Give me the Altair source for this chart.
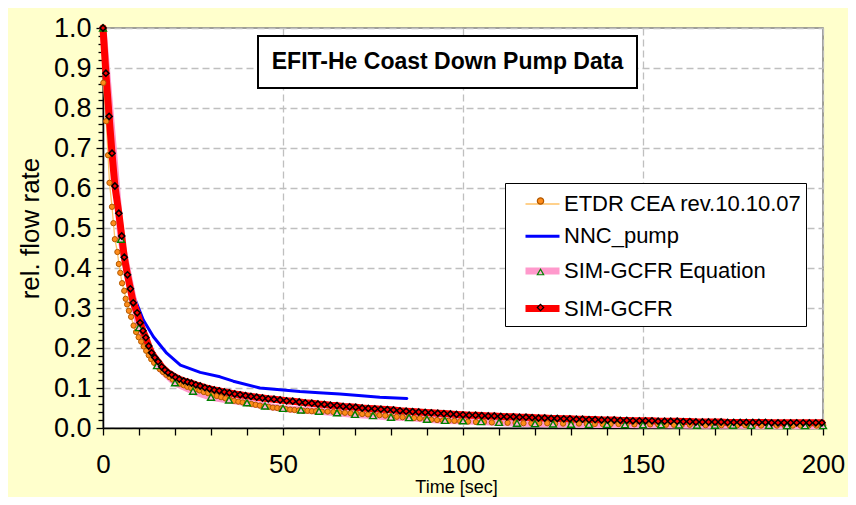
import altair as alt
import pandas as pd

FONT = "Liberation Sans"

# ---------------- data ----------------
S_ETDR = "ETDR CEA rev.10.10.07"
S_NNC = "NNC_pump"
S_EQ = "SIM-GCFR Equation"
S_SIM = "SIM-GCFR"
series_names = [S_ETDR, S_NNC, S_EQ, S_SIM]

etdr_t = [0, 0.1, 0.9, 1.4, 1.8, 2.5, 2.9, 3.3, 4.0, 4.4,
          4.8, 5.3, 5.9, 6.3, 6.7, 7.2, 7.8, 8.5, 9.2, 9.9,
          10.6, 11.3, 12.0, 12.7, 13.4, 14.2, 15.0, 15.8, 16.7, 17.6,
          18.5, 19.4, 20.4, 21.4, 22.4, 23.4, 24.5, 25.6, 26.8, 28.0,
          29.2, 30.4, 31.6, 32.8, 34.0, 35.2, 36.4, 37.6, 38.8, 40.0,
          41.2, 42.4, 43.6, 44.8, 46.0, 47.2, 48.4, 49.6, 50.8, 52.0,
          53.2, 54.4, 55.6, 56.8, 58.0, 59.2, 60.8, 62.4, 64.0, 65.6,
          67.2, 68.8, 70.4, 72.0, 73.6, 75.2, 76.8, 78.4, 80.0, 81.6,
          83.2, 84.8, 86.4, 88.0, 89.6, 91.2, 92.8, 94.4, 96.0, 97.6,
          99.2, 101.4, 103.6, 105.8, 108.0, 110.2, 112.4, 114.6, 116.8, 119.0,
          121.2, 123.4, 125.6, 127.8, 130.0, 132.2, 134.4, 136.6, 138.8, 141.0,
          143.2, 145.4, 147.6, 149.8, 152.0, 154.2, 156.4, 158.6, 160.8, 163.0,
          165.2, 167.4, 169.6, 171.8, 174.0, 176.2, 178.4, 180.6, 182.8, 185.0,
          187.2, 189.4, 191.6, 193.8, 196.0, 198.2, 200.0]
etdr_v = [1.0, 0.863, 0.767, 0.682, 0.613, 0.553, 0.512, 0.472, 0.440, 0.410,
          0.388, 0.362, 0.343, 0.323, 0.309, 0.293, 0.278, 0.256, 0.240, 0.227,
          0.216, 0.204, 0.193, 0.182, 0.172, 0.163, 0.155, 0.147, 0.140, 0.133,
          0.127, 0.121, 0.116, 0.111, 0.107, 0.103, 0.100, 0.097, 0.094, 0.090,
          0.087, 0.083, 0.080, 0.077, 0.074, 0.071, 0.068, 0.066, 0.064, 0.062,
          0.060, 0.058, 0.056, 0.054, 0.053, 0.051, 0.050, 0.049, 0.047, 0.046,
          0.045, 0.044, 0.043, 0.043, 0.042, 0.042, 0.041, 0.041, 0.040, 0.039,
          0.038, 0.037, 0.036, 0.035, 0.034, 0.033, 0.032, 0.031, 0.029, 0.028,
          0.027, 0.026, 0.025, 0.024, 0.022, 0.021, 0.020, 0.019, 0.018, 0.018,
          0.017, 0.016, 0.015, 0.015, 0.014, 0.013, 0.013, 0.013, 0.012, 0.012,
          0.012, 0.012, 0.011, 0.011, 0.011, 0.011, 0.010, 0.010, 0.010, 0.010,
          0.010, 0.009, 0.009, 0.009, 0.009, 0.009, 0.008, 0.008, 0.008, 0.008,
          0.008, 0.007, 0.007, 0.007, 0.007, 0.007, 0.007, 0.006, 0.006, 0.006,
          0.006, 0.006, 0.006, 0.006, 0.006, 0.006, 0.006]

nnc_t = [0, 0.8, 1.7, 2.5, 3.3, 4.4, 5.9, 7.6, 8.4, 11.2, 14.0, 17.7,
         21.5, 27.0, 32.5, 36.2, 43.6, 50.0, 54.7, 60.0, 65.8, 71.0, 76.9, 84.4]
nnc_v = [1.0, 0.887, 0.779, 0.687, 0.605, 0.537, 0.430, 0.352, 0.333, 0.270, 0.228, 0.187,
         0.157, 0.139, 0.128, 0.117, 0.100, 0.095, 0.091, 0.088, 0.085, 0.081, 0.077, 0.074]

eq_t = [0, 5, 10, 15, 20, 25, 30, 35, 40, 45, 50, 55, 60, 65, 70, 75, 80, 85, 90, 95,
        100, 105, 110, 115, 120, 125, 130, 135, 140, 145, 150, 155, 160, 165, 170, 175,
        180, 185, 190, 195, 200]
eq_v = [1.0, 0.472, 0.251, 0.156, 0.113, 0.092, 0.077, 0.070, 0.063, 0.055, 0.049, 0.045,
        0.042, 0.038, 0.034, 0.031, 0.027, 0.026, 0.022, 0.019, 0.018, 0.016, 0.014, 0.012,
        0.011, 0.010, 0.0095, 0.009, 0.009, 0.0085, 0.008, 0.008, 0.0075, 0.007, 0.007,
        0.007, 0.0065, 0.0065, 0.006, 0.006, 0.006]

sim_t = [0, 0.8, 1.7, 2.5, 3.3, 4.4, 5.2, 5.9, 6.8, 7.6,
         8.4, 9.5, 10.3, 11.1, 11.9, 12.7, 13.5, 14.4, 15.3, 16.3,
         17.2, 18.1, 19.1, 20.1, 21.2, 22.4, 23.5, 24.6, 25.8, 27.0,
         28.3, 29.6, 30.9, 32.3, 33.7, 35.1, 36.6, 38.1, 39.6, 41.1,
         42.7, 44.3, 45.9, 47.5, 49.2, 51.0, 52.7, 54.5, 56.2, 58.0,
         59.7, 61.5, 63.2, 65.0, 66.7, 68.5, 70.2, 72.0, 73.7, 75.5,
         77.2, 79.0, 80.7, 82.5, 84.2, 86.0, 87.7, 89.5, 91.2, 93.0,
         94.7, 96.5, 98.2, 100.0, 101.7, 103.5, 105.2, 107.0, 108.7, 110.5,
         112.2, 114.0, 115.7, 117.5, 119.2, 121.0, 122.7, 124.5, 126.2, 128.0,
         129.7, 131.5, 133.2, 135.0, 136.7, 138.5, 140.2, 142.0, 143.7, 145.5,
         147.2, 149.0, 150.7, 152.5, 154.2, 156.0, 157.7, 159.5, 161.2, 163.0,
         164.7, 166.5, 168.2, 170.0, 171.7, 173.5, 175.2, 177.0, 178.7, 180.5,
         182.2, 184.0, 185.7, 187.5, 189.2, 191.0, 192.7, 194.5, 196.2, 198.0, 199.7]
sim_v = [1.0, 0.887, 0.779, 0.687, 0.605, 0.537, 0.480, 0.427, 0.383, 0.348,
         0.313, 0.288, 0.263, 0.243, 0.226, 0.205, 0.188, 0.176, 0.166, 0.153,
         0.145, 0.138, 0.133, 0.127, 0.122, 0.118, 0.115, 0.112, 0.108, 0.105,
         0.101, 0.098, 0.095, 0.093, 0.090, 0.088, 0.085, 0.083, 0.081, 0.079,
         0.077, 0.075, 0.073, 0.072, 0.070, 0.068, 0.067, 0.065, 0.063, 0.062,
         0.060, 0.059, 0.057, 0.056, 0.054, 0.053, 0.052, 0.050, 0.049, 0.048,
         0.047, 0.046, 0.045, 0.043, 0.042, 0.041, 0.040, 0.039, 0.038, 0.037,
         0.036, 0.035, 0.034, 0.033, 0.032, 0.032, 0.031, 0.030, 0.030, 0.029,
         0.028, 0.028, 0.027, 0.027, 0.026, 0.025, 0.025, 0.024, 0.024, 0.023,
         0.023, 0.022, 0.022, 0.021, 0.021, 0.020, 0.020, 0.020, 0.019, 0.019,
         0.018, 0.018, 0.018, 0.018, 0.017, 0.017, 0.017, 0.017, 0.016, 0.016,
         0.015, 0.015, 0.015, 0.015, 0.015, 0.014, 0.014, 0.014, 0.014, 0.014,
         0.014, 0.014, 0.013, 0.013, 0.013, 0.013, 0.013, 0.013, 0.013, 0.013, 0.013]

x_ticks = [0, 10, 20, 30, 40, 50, 60, 70, 80, 90, 100, 110, 120, 130, 140, 150,
           160, 170, 180, 190, 200]
y_ticks = [round(0.02 * i, 2) for i in range(51)]

# ---------------- table ----------------
rows = []
for name, ts, vs in [(S_ETDR, etdr_t, etdr_v), (S_NNC, nnc_t, nnc_v),
                     (S_EQ, eq_t, eq_v), (S_SIM, sim_t, sim_v)]:
    assert len(ts) == len(vs), name
    for i, (t, v) in enumerate(zip(ts, vs)):
        rows.append({"series": name, "series_m": name + " ", "t": t, "v": v, "order": i})
df = pd.DataFrame(rows)

# ---------------- style ----------------
line_colors = ["#FFC266", "#0000FF", "#FF99CC", "#FF0000"]
line_widths = [1.3, 3, 7, 7]
marker_names = [n + " " for n in series_names]
marker_fill = ["#FF8C1A", "transparent", "#FFB3D9", "#FF0000"]
marker_stroke = ["#B35900", "transparent", "#008000", "#000000"]
marker_shape = ["circle", "circle", "triangle-up", "diamond"]

y_major = "abs(datum.value*10 - round(datum.value*10)) < 0.001"
x_major = "datum.value % 50 == 0"

x_enc = alt.X(
    "t:Q",
    scale=alt.Scale(domain=[0, 200], nice=False, zero=False),
    axis=alt.Axis(
        values=x_ticks,
        labelExpr=f"({x_major}) ? format(datum.value, 'd') : ''",
        labelOverlap=False,
        labelFlush=False,
        labelFontSize=26,
        labelPadding=16,
        tickSize=7,
        title="Time [sec]",
        titleFontSize=18,
        titleFontWeight="normal",
        titleX=353,
        titleY=59,
        titleAlign="center",
        titleBaseline="middle",
        gridOpacity={"condition": {"test": x_major, "value": 1}, "value": 0},
    ),
)
y_enc = alt.Y(
    "v:Q",
    scale=alt.Scale(domain=[0, 1], nice=False),
    axis=alt.Axis(
        values=y_ticks,
        labelExpr=f"({y_major}) ? format(datum.value, '.1f') : ''",
        labelOverlap=False,
        labelFlush=False,
        labelFontSize=27,
        labelPadding=5,
        tickSize={"condition": {"test": y_major, "value": 7}, "value": 5},
        title="rel. flow rate",
        titleFontSize=26,
        titleFontWeight="normal",
        titleAngle=270,
        titleX=-73,
        titleY=200,
        titleAlign="center",
        titleBaseline="middle",
        gridOpacity={"condition": {"test": y_major, "value": 1}, "value": 0},
    ),
)

leg_lines = alt.Legend(
    orient="none", legendX=402, legendY=155, title=None,
    symbolType="stroke", symbolSize=1156,
    padding=3, rowPadding=2.7, symbolOffset=14, labelOffset=1,
    labelFont=FONT, labelFontSize=22, labelColor="black", labelLimit=500,
    labelExpr="datum.label + '      \u2009'",
    fillColor="white", strokeColor="black",
)
# marker overlay legend: same rows, symbols only (no label text)
leg_marks = alt.Legend(
    orient="none", legendX=402, legendY=159, title=None,
    symbolSize=40, symbolStrokeWidth=1.2,
    padding=3, rowPadding=13.5, symbolOffset=21.5, labelOffset=5,
    labelFont=FONT, labelFontSize=22, labelExpr="''", labelLimit=500,
)

color_enc = alt.Color("series:N", scale=alt.Scale(domain=series_names, range=line_colors),
                      legend=leg_lines)
width_enc = alt.StrokeWidth("series:N",
                            scale=alt.Scale(type="ordinal", domain=series_names, range=line_widths),
                            legend=leg_lines)
fill_enc = alt.Fill("series_m:N", scale=alt.Scale(domain=marker_names, range=marker_fill),
                    legend=leg_marks)
stroke_enc = alt.Stroke("series_m:N", scale=alt.Scale(domain=marker_names, range=marker_stroke),
                        legend=leg_marks)
shape_enc = alt.Shape("series_m:N", scale=alt.Scale(domain=marker_names, range=marker_shape),
                      legend=leg_marks)

base = alt.Chart(df)


def line_layer(name):
    return base.transform_filter(alt.datum.series == name).mark_line(
        strokeJoin="round", strokeCap="round"
    ).encode(x=x_enc, y=y_enc, color=color_enc, strokeWidth=width_enc, order="order:Q")


def point_layer(name, size, sw):
    return base.transform_filter(alt.datum.series == name).mark_point(
        filled=True, size=size, strokeWidth=sw, opacity=1
    ).encode(x=x_enc, y=y_enc, fill=fill_enc, stroke=stroke_enc, shape=shape_enc)


one = pd.DataFrame({"k": [0]})
title_box = alt.Chart(one).mark_rect(fill="white", stroke="black", strokeWidth=2).encode(
    x=alt.value(155), x2=alt.value(534), y=alt.value(8), y2=alt.value(60)
)
title_text = alt.Chart(one).mark_text(
    text="EFIT-He Coast Down Pump Data", font=FONT, fontSize=23, fontWeight="bold",
    align="center", baseline="middle", color="black"
).encode(x=alt.value(344.5), y=alt.value(34))

chart = alt.layer(
    line_layer(S_ETDR),
    line_layer(S_NNC),
    line_layer(S_EQ),
    line_layer(S_SIM),
    point_layer(S_ETDR, 28, 1),
    point_layer(S_EQ, 48, 1.4),
    point_layer(S_SIM, 38, 1.5),
    title_box,
    title_text,
).properties(
    width=720, height=400,
    background="#FFFFCC",
    padding={"left": 95, "top": 20, "right": 25, "bottom": 69},
    autosize=alt.AutoSizeParams(type="none"),
).configure_view(
    fill="white", stroke="#808080", strokeWidth=1.5
).configure_axis(
    domainColor="black", domainWidth=1.5, tickColor="black", tickWidth=1.3,
    labelColor="black", titleColor="black", labelFont=FONT, titleFont=FONT,
    gridColor="#BFBFBF", gridDash=[7, 4], gridWidth=1.3,
)

chart.save("out.html", embed_options={"renderer": "svg", "actions": False})
